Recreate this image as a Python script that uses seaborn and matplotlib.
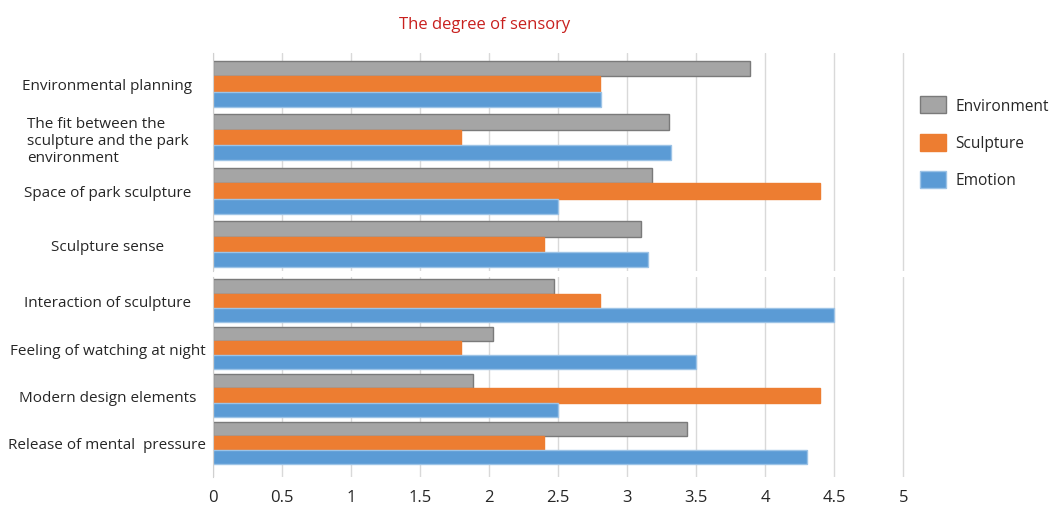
import numpy as np
import pandas as pd
import seaborn as sns
import matplotlib.pyplot as plt
from matplotlib.patches import Patch

top_items = ["Environmental planning",
             "The fit between the\nsculpture and the park\nenvironment",
             "Space of park sculpture",
             "Sculpture sense"]
bottom_items = ["Interaction of sculpture",
                "Feeling of watching at night",
                "Modern design elements",
                "Release of mental  pressure"]

series = ["Environment", "Sculpture", "Emotion"]
colors = ["#a5a5a5", "#ed7d31", "#5b9bd5"]
edges = ["#7a7a7a", "#ed7d31", "#9cc3e6"]

environment = [3.89, 3.30, 3.18, 3.10, 2.47, 2.03, 1.88, 3.43]
sculpture = [2.80, 1.80, 4.40, 2.40, 2.80, 1.80, 4.40, 2.40]
emotion = [2.81, 3.32, 2.50, 3.15, 4.50, 3.50, 2.50, 4.30]

xticks = [0, 0.5, 1, 1.5, 2, 2.5, 3, 3.5, 4, 4.5, 5]
xtick_labels = ["0", "0.5", "1", "1.5", "2", "2.5", "3", "3.5", "4", "4.5", "5"]


def long_table(items, offset):
    rows = []
    for i, item in enumerate(items):
        vals = [environment[offset + i], sculpture[offset + i], emotion[offset + i]]
        for s, v in zip(series, vals):
            rows.append({"item": item, "series": s, "value": v})
    return pd.DataFrame(rows)


sns.set_style("white")
plt.rcParams['font.family'] = ['Open Sans', 'DejaVu Sans']

fig = plt.figure(figsize=(10.58, 5.06), dpi=100)
ax_top = fig.add_axes([213 / 1058, 1 - 272 / 506, 693 / 1058, 218 / 506])
ax_bot = fig.add_axes([213 / 1058, 1 - 478 / 506, 693 / 1058, 200 / 506])

panels = [(ax_top, top_items, 0, 0.86), (ax_bot, bottom_items, 4, 0.9)]
for ax, items, offset, w in panels:
    df = long_table(items, offset)
    sns.barplot(data=df, y="item", x="value", hue="series", hue_order=series,
                palette=colors, orient="h", width=w, ax=ax, legend=False,
                linewidth=1, saturation=1)
    for k, cont in enumerate(ax.containers):
        for bar in cont:
            bar.set_edgecolor(edges[k])
    ax.set_xlim(0, 5.02)
    ax.set_xticks(xticks)
    ax.grid(axis="x", color="#d9d9d9", lw=1)
    ax.set_axisbelow(True)
    for sp in ["top", "right", "bottom"]:
        ax.spines[sp].set_visible(False)
    ax.spines["left"].set_color("#d0d0d0")
    ax.set_xlabel("")
    ax.set_ylabel("")
    ax.tick_params(axis="y", length=0, pad=76, labelsize=11)
    for t in ax.get_yticklabels():
        t.set_horizontalalignment("center")
        t.set_multialignment("left")

ax_top.set_ylim(3.5, -0.58)
ax_bot.set_ylim(3.72, -0.5)
ax_top.tick_params(axis="x", length=0, labelbottom=False)
ax_bot.set_xticklabels(xtick_labels)
ax_bot.tick_params(axis="x", length=0, labelsize=12, pad=9)

fig.text(0.458, 0.95, "The degree of sensory", color="#c8201e",
         fontsize=12, ha="center", va="center")

handles = [Patch(facecolor=c, edgecolor=e, label=s) for c, e, s in zip(colors, edges, series)]
fig.legend(handles=handles, loc="upper left", bbox_to_anchor=(0.856, 0.835),
           frameon=False, fontsize=11.2, handlelength=1.7, handleheight=1.3,
           labelspacing=1.25, handletextpad=0.6)

fig.savefig("out.png", dpi=100)
